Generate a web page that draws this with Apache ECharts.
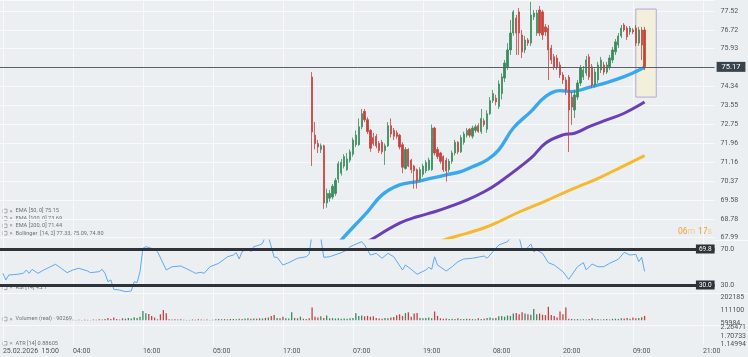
<!DOCTYPE html>
<html><head><meta charset="utf-8">
<script src="https://cdn.jsdelivr.net/npm/echarts@6/dist/echarts.min.js"></script>
<style>html,body{margin:0;padding:0;background:#eceff2;}#c{width:748px;height:357px;}</style>
</head><body><div id="c"></div>
<script>
// ---------- DATA ----------
const barCount = 246;                       // 30-minute bars on the category axis
const xTickLabels = ['25.02.2026  15:00','04:00','16:00','05:00','17:00','07:00','19:00','08:00','20:00','09:00','21:00'];
const priceTicks = ['67.99','68.78','69.58','70.37','71.16','71.96','72.75','73.55','74.34','75.13','75.93','76.72','77.52'];
const priceAxisMax = 77.98;
const lastPrice = 75.17;
const candleStart = 107;                    // first bar inside the visible price range
// [open, close, low, high]
const candles = [
[74.74,72.43,71.00,74.95],[72.30,71.95,71.70,72.85],[71.95,71.80,71.55,72.10],[71.70,71.85,71.55,71.95],
[71.85,69.45,69.20,71.90],[69.45,69.85,69.25,70.05],[69.65,69.85,69.50,70.00],[69.70,70.15,69.60,70.25],
[69.85,70.40,69.75,70.50],[70.45,71.10,70.30,71.20],[70.70,71.15,70.60,71.30],[71.00,71.40,70.90,71.50],
[70.85,71.30,70.80,71.55],[71.25,71.60,71.15,71.70],[71.50,72.10,71.40,72.20],[71.90,72.30,71.80,72.50],
[71.90,72.65,71.85,73.00],[72.65,73.20,72.55,73.40],[73.30,72.95,72.85,73.40],[72.95,72.45,72.35,73.05],
[72.50,71.75,71.60,72.55],[72.20,71.95,71.85,72.40],[72.25,71.85,71.75,72.35],[71.95,71.65,71.55,72.05],
[72.00,71.60,71.50,72.10],[71.65,71.85,71.05,71.95],[71.85,72.70,71.80,72.85],[72.70,72.35,72.20,73.00],
[72.50,72.25,72.10,72.60],[72.40,72.25,72.15,72.50],[72.30,71.80,71.70,72.35],[71.90,70.95,70.70,72.00],
[70.90,71.70,70.85,71.80],[71.70,71.00,70.95,71.75],[71.25,70.85,70.70,71.30],[71.00,70.80,70.05,71.05],
[70.85,70.40,70.05,70.90],[70.45,70.85,70.35,70.95],[70.65,71.00,70.55,71.10],[70.80,71.15,70.70,71.25],
[70.85,71.25,70.80,71.35],[70.85,72.60,70.80,72.75],[72.60,71.55,71.45,72.65],[71.70,71.40,71.30,71.80],
[71.55,71.20,71.10,71.60],[71.40,70.85,70.75,71.45],[71.25,70.80,70.35,71.35],[70.85,71.20,70.75,71.30],
[71.20,71.55,71.10,71.65],[71.55,72.00,71.45,72.10],[72.00,71.60,71.50,72.05],[71.60,72.20,71.55,72.30],
[72.00,72.35,71.90,72.45],[72.30,72.50,72.20,72.60],[72.55,72.30,72.20,72.60],[72.25,72.60,72.15,72.70],
[72.50,72.65,72.40,72.75],[72.70,72.45,72.40,72.80],
[72.45,73.00,72.35,73.40],[72.90,72.75,72.65,73.00],[72.55,73.20,72.40,73.35],[73.20,73.75,73.15,73.90],
[73.75,74.05,73.65,74.20],[73.85,73.70,73.55,74.00],[73.50,74.45,73.40,74.60],[74.05,74.75,73.80,74.90],
[74.70,75.33,74.53,75.46],[75.17,75.88,75.04,76.17],[75.88,76.59,75.67,77.14],[76.59,77.48,76.47,77.56],
[77.22,76.59,75.67,77.35],[77.48,76.59,75.67,77.64],[76.51,75.80,75.54,76.72],[75.88,76.30,75.75,76.47],
[76.30,76.17,76.05,76.38],[76.17,77.35,76.05,77.90],[77.27,77.43,77.14,77.56],[76.59,77.43,76.47,77.56],
[77.56,76.59,76.47,77.73],[77.48,76.51,76.30,77.56],[76.85,76.64,76.47,76.97],[76.80,75.88,74.62,76.93],
[75.96,75.46,75.29,76.09],[75.59,75.17,75.04,75.71],[75.54,75.17,75.04,75.67],[75.25,74.83,74.70,75.38],
[74.83,74.62,74.45,74.95],[74.62,74.20,73.99,74.74],[74.74,73.36,71.59,74.83],[73.90,73.48,72.73,74.11],
[73.36,73.99,73.02,74.20],[73.90,74.49,73.78,74.62],[74.49,75.12,74.37,75.25],[74.74,75.04,74.62,75.21],
[74.91,75.46,74.79,75.63],[75.59,74.74,74.62,75.71],[75.17,74.41,74.28,75.29],[74.41,74.95,74.30,75.10],
[74.62,75.25,74.49,75.38],[75.04,75.46,74.91,75.59],[75.25,74.95,74.83,75.38],[74.95,75.25,74.87,75.38],
[75.17,75.54,75.04,75.67],[75.46,75.88,75.33,76.01],[75.80,76.22,75.67,76.34],[76.09,76.47,75.96,76.59],
[76.47,76.80,76.38,76.93],[76.93,76.72,76.64,77.01],[76.80,76.43,76.30,76.89],[76.64,76.80,76.51,76.89],
[76.72,76.64,76.55,76.80],[76.80,76.17,76.05,76.93],[76.17,76.72,76.05,76.85],[76.72,76.09,75.46,76.85],
[76.72,75.17,75.04,76.85]
];
// [bar index, value]
const ema50  = [[112,67.15],[117,67.89],[126,69.08],[131,69.79],[137,70.21],[143,70.35],[148,70.49],[153,70.63],[158,70.77],[162,70.97],[167,71.26],[171,71.68],[176,72.60],[182,73.29],[187,73.92],[192,74.17],[196,74.13],[202,74.31],[208,74.51],[214,74.76],[218,74.97],[221,75.15]];
const ema100 = [[122,67.50],[127,67.89],[137,68.60],[143,68.87],[149,69.08],[154,69.29],[160,69.57],[166,69.92],[171,70.30],[182,71.33],[187,71.96],[193,72.31],[197,72.38],[202,72.66],[208,72.94],[214,73.22],[221,73.69]];
const ema200 = [[146,67.60],[152,67.89],[160,68.17],[167,68.45],[171,68.66],[178,69.07],[187,69.53],[195,69.97],[206,70.54],[213,70.96],[221,71.44]];
const rsi = [[1,43.0],[2,35.6],[3,41.1],[6,41.9],[8,43.0],[9,46.7],[10,43.0],[11,47.4],[13,43.0],[15,46.7],[19,53.0],[21,48.6],[23,43.7],[25,46.7],[27,48.6],[30,45.6],[31,43.7],[34,44.8],[35,47.4],[36,43.0],[37,33.7],[38,35.6],[39,25.2],[41,24.4],[43,22.6],[45,23.3],[46,33.7],[47,32.6],[48,44.8],[49,70.8],[50,72.6],[53,69.7],[54,67.0],[57,46.7],[59,50.3],[62,51.1],[66,44.8],[67,43.0],[69,44.1],[70,43.0],[72,50.3],[75,54.1],[78,61.4],[80,63.3],[81,65.9],[82,58.9],[83,67.0],[85,70.8],[86,67.0],[87,72.6],[89,74.4],[90,76.3],[91,84],[92,84],[94,60.8],[95,60.8],[97,52.2],[99,54.8],[102,59.7],[105,61.4],[106,64.4],[107,88],[108,85],[109,84],[110,82],[111,60.8],[113,61.4],[117,65.9],[119,68.9],[120,72.6],[124,78.1],[125,74.4],[127,63.3],[129,65.2],[131,59.7],[133,65.2],[135,61.4],[138,46.7],[139,52.2],[141,47.4],[143,41.9],[146,46.7],[147,49.7],[148,47.4],[149,61.4],[150,52.2],[153,45.6],[155,50.3],[157,55.9],[159,58.9],[162,59.7],[166,62.2],[167,59.7],[169,67.0],[171,74.4],[174,78.1],[175,83],[178,83],[179,69.7],[180,68.1],[182,75.6],[183,67.0],[184,68.9],[186,65.2],[188,54.8],[190,52.2],[193,44.8],[195,36.3],[196,41.1],[198,50.3],[200,54.8],[201,46.7],[203,53.3],[205,50.3],[207,50.3],[209,54.1],[212,58.6],[214,66.3],[216,63.3],[218,64.1],[219,55.9],[220,60.8],[221,45.1]];
const rsiLevels = [70, 30];
const rsiLevelTags = ['69.8', '30.0'];
const volStart = 23;
const volume = [3000,2000,3000,2000,3000,2000,3000,2000,
1000,4000,3000,5000,4000,6000,12000,7000,14000,6000,
4000,10000,8000,12000,9000,15000,11000,18000,46000,35000,
32000,22000,14000,5000,30000,52000,35000,5000,4000,5000,
4000,5000,3000,2000,2000,4000,3000,5000,4000,3000,
4000,2000,3000,5000,6000,5000,6000,5000,7000,6000,
5000,8000,7000,9000,10000,8000,9000,8000,10000,9000,
12000,14000,22000,26000,12000,10000,18000,10000,9000,40000,
12000,10000,18000,8000,6000,10000,64000,18000,14000,20000,
12000,24000,10000,11000,9000,10000,8000,9000,8000,10000,
12000,35000,22000,24000,20000,22000,18000,20000,12000,9000,
8000,12000,10000,14000,16000,25000,30000,22000,36000,40000,
18000,34000,36000,12000,10000,12000,14000,10000,44000,22000,
10000,8000,9000,7000,8000,6000,10000,7000,6000,8000,
7000,6000,5000,10000,6000,8000,12000,14000,10000,12000,
20000,22000,18000,24000,22000,34000,36000,30000,40000,34000,
30000,28000,56000,30000,34000,28000,26000,68000,26000,22000,
14000,44000,30000,64000,8000,6000,5000,6000,4000,5000,
4000,6000,10000,5000,6000,4000,5000,6000,4000,7000,
8000,6000,10000,9000,12000,8000,14000,10000,12000,15000,22000];
// bar direction (u = up, d = down) for bars before the first visible candle
const volDirEarly = 'dudduddu' + 'dddddudddd' + 'uduuuuuuuu' + 'ddduddddud' + 'dduuududud' + 'duuudududu' + 'uuduududuu' + 'dudduuduuu' + 'ududud';
const volTicks = ['59984', '111100', '202185'];
const atrTicks = ['1.14994', '1.70733', '2.26471'];
const box = { from: 218, to: 225, high: 77.60, low: 73.90 };
const legendLines = ['EMA [50, 0] 75.15', 'EMA [100, 0] 73.69', 'EMA [200, 0] 71.44', 'Bollinger  [14, 2] 77.33, 75.09, 74.80'];
const panelLabels = ['RSI [14] 45.1', 'Volumen (real) · 90269', 'ATR [14] 0.88605'];

// ---------- CHART ----------
const FONT = 'Roboto, "DejaVu Sans", sans-serif';
const UP = '#3a8b5d', DOWN = '#c7423f';
const cats = Array.from({ length: barCount }, (_, j) => String(j));
const isLabelBar = j => j >= 1 && (j - 1) % 24 === 0;
const priceLo = parseFloat(priceTicks[0]);
const priceStep = (parseFloat(priceTicks[priceTicks.length - 1]) - priceLo) / (priceTicks.length - 1);
const priceLabelMax = (priceAxisMax - priceLo) / priceStep;
const isInt = v => Math.abs(v - Math.round(v)) < 1e-6;

const candleData = candles.map((c, k) => [candleStart + k, c[0], c[1], c[2], c[3]]);
const volData = volume.map((v, k) => {
  const j = volStart + k;
  let up;
  const ci = j - candleStart;
  if (ci >= 0 && ci < candles.length) up = candles[ci][1] >= candles[ci][0];
  else up = volDirEarly[k] === 'u';
  return { value: [j, v], itemStyle: { color: up ? UP : DOWN } };
});

const L = 0, W = 714.6;
const grids = [
  { left: L, width: W, top: 0, height: 345 },
  { left: L, width: W, top: 0, height: 237.7 },
  { left: L, width: W, top: 240, height: 54 },
  { left: L, width: W, top: 297.3, height: 26 },
  { left: L, width: W, top: 327.7, height: 16.6 }
].map(g => Object.assign(g, { outerBoundsMode: 'none', containLabel: false }));

const xAxes = grids.map((g, k) => ({
  type: 'category', gridIndex: k, data: cats, boundaryGap: false, show: k === 0,
  axisLine: { show: false }, axisTick: { show: false },
  axisLabel: {
    show: k === 0, interval: (i) => isLabelBar(i), align: 'left', margin: 3,
    fontSize: 7, color: '#4f545a', fontFamily: FONT,
    formatter: (v, i) => { const n = (Number(v) - 1) / 24; return xTickLabels[n] || ''; }
  },
  splitLine: { show: k === 0, interval: (i) => isLabelBar(i), lineStyle: { color: '#f8f9fa', width: 1 } }
}));

const axLabel = (fmt) => ({ fontSize: 7, color: '#4f545a', fontFamily: FONT, margin: 6, formatter: fmt });
const yAxes = [
  { gridIndex: 0, type: 'value', show: false, min: 0, max: 1 },
  { gridIndex: 1, type: 'value', show: false, min: priceLo, max: priceAxisMax, scale: true },
  { gridIndex: 1, type: 'value', position: 'right', min: 0, max: priceLabelMax, interval: 1,
    axisLine: { show: false }, axisTick: { show: false },
    axisLabel: axLabel(v => isInt(v) ? (priceTicks[Math.round(v)] || '') : ''),
    splitLine: { show: true, lineStyle: { color: '#f8f9fa', width: 1 } } },
  { gridIndex: 2, type: 'value', position: 'right', min: 20, max: 80, interval: 10,
    axisLine: { show: false }, axisTick: { show: false }, splitLine: { show: false },
    axisLabel: axLabel(v => rsiLevels.includes(v) ? v.toFixed(1) : '') },
  { gridIndex: 3, type: 'value', show: false, min: -15000, max: 115000 },
  { gridIndex: 3, type: 'value', position: 'right', min: 0, max: 2, interval: 1,
    axisLine: { show: false }, axisTick: { show: false }, splitLine: { show: false },
    axisLabel: axLabel(v => isInt(v) ? (volTicks[Math.round(v)] || '') : '') },
  { gridIndex: 4, type: 'value', position: 'right', min: 0, max: 2, interval: 1,
    axisLine: { show: false }, axisTick: { show: false }, splitLine: { show: false },
    axisLabel: axLabel(v => isInt(v) ? (atrTicks[Math.round(v)] || '') : '') }
];

const emaLine = (data, color, w) => ({
  type: 'line', xAxisIndex: 1, yAxisIndex: 1, data, smooth: 0.4, showSymbol: false,
  lineStyle: { color, width: w }, clip: true, z: 2, silent: true
});

const series = [
  { type: 'candlestick', xAxisIndex: 1, yAxisIndex: 1, data: candleData,
    encode: { x: 0, y: [1, 2, 3, 4] }, barWidth: 1.8, z: 3,
    itemStyle: { color: UP, color0: DOWN, borderColor: UP, borderColor0: DOWN, borderWidth: 0.8 },
    markArea: { silent: true, z: 1,
      itemStyle: { color: 'rgba(242,239,216,0.95)', borderColor: '#b6a6dc', borderWidth: 1 },
      data: [[{ coord: [box.from, box.high] }, { coord: [box.to, box.low] }]] },
    markLine: { silent: true, symbol: 'none', z: 6,
      lineStyle: { color: '#5b6067', width: 1, type: 'solid' },
      label: { position: 'end', formatter: lastPrice.toFixed(2), backgroundColor: '#39434d', color: '#ffffff',
        fontSize: 7.5, fontFamily: FONT, padding: [1, 5, 1, 5], distance: 2 },
      data: [{ yAxis: lastPrice }] } },
  emaLine(ema200, '#f5b82e', 3),
  emaLine(ema100, '#6a3fb8', 3),
  emaLine(ema50, '#3aa8ee', 3.4),
  { type: 'line', xAxisIndex: 2, yAxisIndex: 3, data: rsi, showSymbol: false, silent: true,
    lineStyle: { color: '#5ea9ef', width: 1 }, clip: true,
    markLine: { silent: true, symbol: 'none',
      lineStyle: { color: '#2e3339', width: 3, type: 'solid' },
      label: { position: 'insideEnd', distance: 0, backgroundColor: '#2e3339', color: '#ffffff',
        fontSize: 6.5, fontFamily: FONT, padding: [1, 3, 1, 3] },
      data: rsiLevels.map((v, k) => ({ yAxis: v, label: { formatter: rsiLevelTags[k] } })) } },
  { type: 'bar', xAxisIndex: 3, yAxisIndex: 4, data: volData, barWidth: 1.3, silent: true }
];

const graphic = [];
legendLines.forEach((t, k) => {
  const y = 211 + k * 7.4;
  graphic.push({ type: 'rect', shape: { x: 3, y: y - 1.8, width: 4, height: 3.6 }, style: { fill: 'none', stroke: '#8c9096', lineWidth: 0.7 } });
  graphic.push({ type: 'text', x: 9.5, y: y, style: { text: '×', fontSize: 6, fill: '#8c9096', verticalAlign: 'middle', fontFamily: FONT } });
  graphic.push({ type: 'text', x: 15.5, y: y, style: { text: t, fontSize: 5.6, fill: '#6d7278', verticalAlign: 'middle', fontFamily: FONT } });
});
[287.7, 319, 343.3].forEach((y, k) => {
  graphic.push({ type: 'rect', shape: { x: 3, y: y - 1.8, width: 4, height: 3.6 }, style: { fill: 'none', stroke: '#8c9096', lineWidth: 0.7 } });
  graphic.push({ type: 'text', x: 9.5, y: y, style: { text: '×', fontSize: 6, fill: '#8c9096', verticalAlign: 'middle', fontFamily: FONT } });
  graphic.push({ type: 'text', x: 15.5, y: y, style: { text: panelLabels[k], fontSize: 5.6, fill: '#6d7278', verticalAlign: 'middle', fontFamily: FONT } });
});
graphic.push({ type: 'line', shape: { x1: 0, y1: 293.5, x2: 748, y2: 293.5 }, style: { stroke: '#f8f9fa', lineWidth: 1 }, z: -1 });
graphic.push({ type: 'line', shape: { x1: 0, y1: 325.5, x2: 748, y2: 325.5 }, style: { stroke: '#f8f9fa', lineWidth: 1 }, z: -1 });
graphic.push({ type: 'line', shape: { x1: 714, y1: 240.5, x2: 748, y2: 240.5 }, style: { stroke: '#f8f9fa', lineWidth: 1 }, z: -1 });
graphic.push({ type: 'text', x: 712, y: 232, style: {
  text: '{a|06}{b|m} {a|17}{b|s}', align: 'right', verticalAlign: 'middle', fontFamily: FONT,
  rich: { a: { fontSize: 8.5, fill: '#f0a030', fontFamily: FONT }, b: { fontSize: 8.5, fill: '#f5c98c', fontFamily: FONT } } } });

const chart = echarts.init(document.getElementById('c'), null, { renderer: 'canvas' });
chart.setOption({
  backgroundColor: '#eceff2',
  animation: false,
  textStyle: { fontFamily: FONT },
  grid: grids, xAxis: xAxes, yAxis: yAxes, series, graphic
});
</script></body></html>
